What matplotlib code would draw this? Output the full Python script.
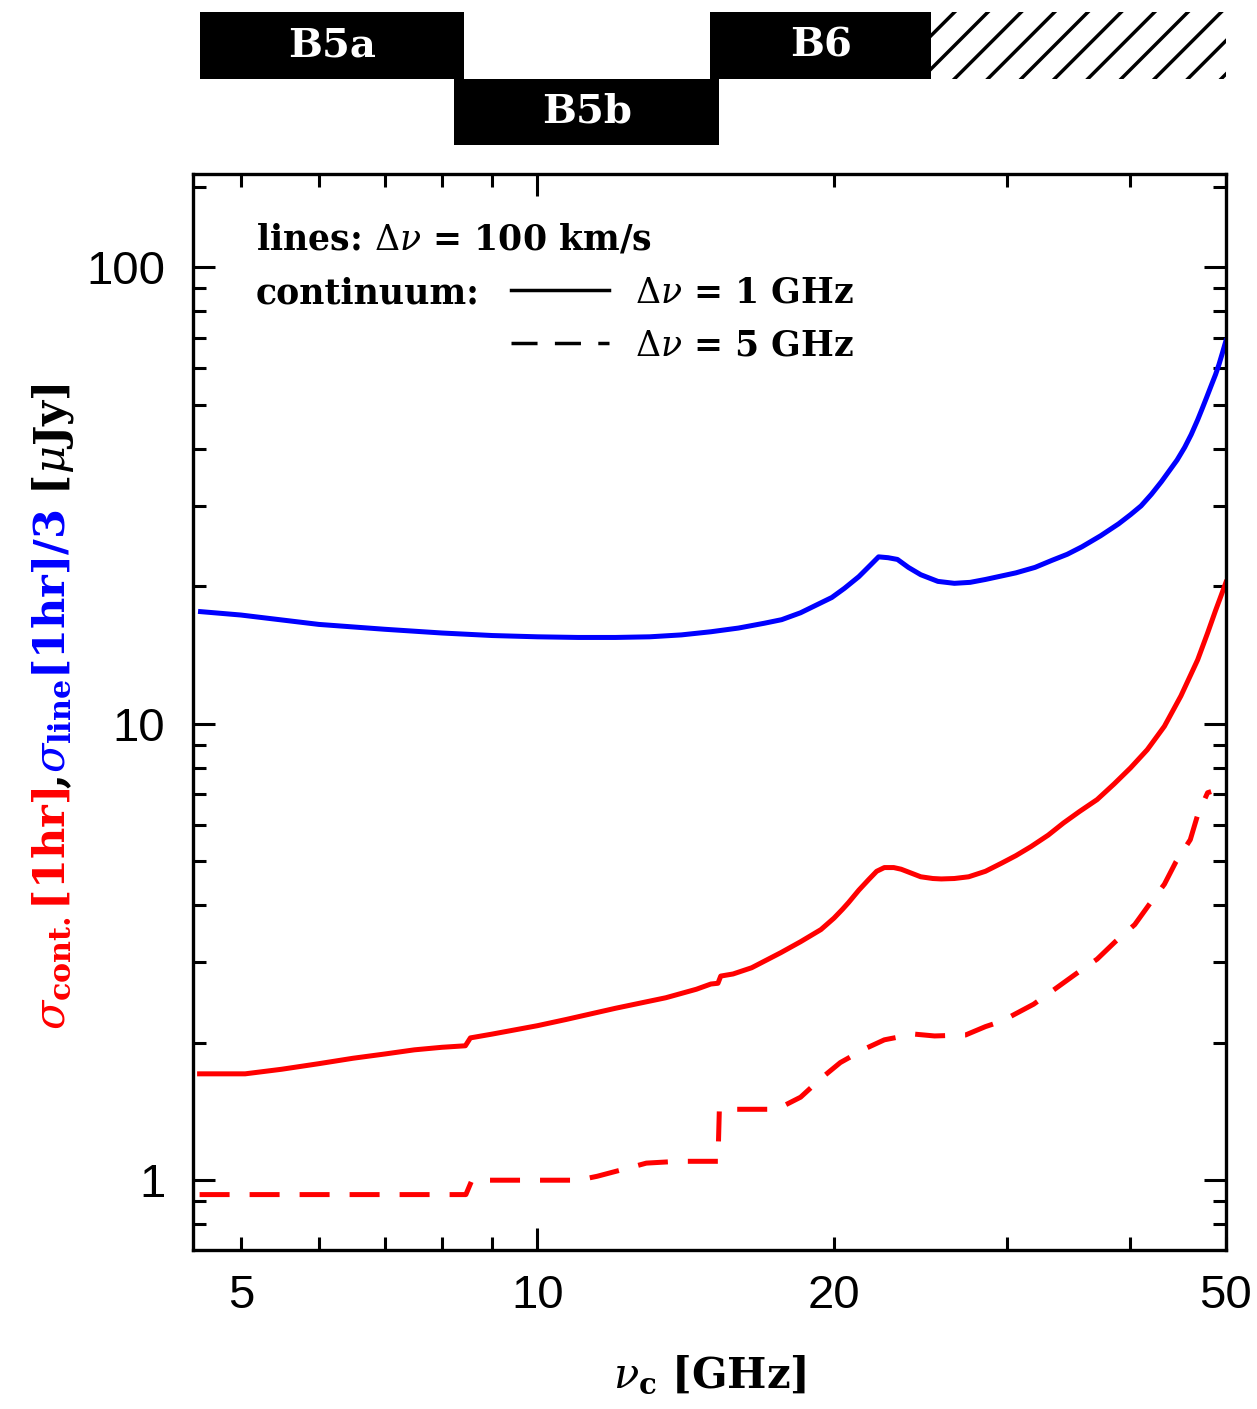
import numpy as np
import matplotlib
matplotlib.use("Agg")
import matplotlib.pyplot as plt
from matplotlib.ticker import FixedLocator, FuncFormatter, NullFormatter
from matplotlib.lines import Line2D

plt.rcParams["mathtext.fontset"] = "dejavuserif"
plt.rcParams["hatch.linewidth"] = 2.5

# receiver bands (GHz)
band_names = ["B5a", "B5b", "B6"]
band_lo = [4.54, 8.23, 14.98]
band_hi = [8.43, 15.3, 25.1]
band_row = [1.5, 0.5, 1.5]
hatch_lo = 25.1
hatch_hi = 50.0

# sigma_line[1hr]/3, dv = 100 km/s
nu_line = [4.55, 5.0, 6.0, 7.0, 8.0, 9.0, 10.0, 11.0, 12.0, 13.0, 14.0, 15.0, 16.0,
           17.0, 17.7, 18.5, 19.2, 19.9, 20.5, 21.2, 21.8, 22.2, 22.7, 23.2, 23.8,
           24.5, 25.5, 26.5, 27.5, 28.5, 30.6, 32.0, 33.3, 34.5, 35.7, 37.3, 38.9,
           40.0, 41.0, 42.0, 43.0, 44.6, 45.4, 46.1, 46.8, 47.3, 47.8, 48.3, 48.8,
           49.2, 49.6, 50.0]
sig_line = [17.6, 17.3, 16.5, 16.1, 15.8, 15.6, 15.5, 15.45, 15.45, 15.5, 15.65, 15.9, 16.2,
            16.6, 16.9, 17.5, 18.2, 18.9, 19.8, 21.0, 22.3, 23.2, 23.1, 22.9, 22.0,
            21.2, 20.5, 20.3, 20.4, 20.7, 21.4, 22.0, 22.8, 23.5, 24.4, 25.8, 27.4,
            28.7, 30.0, 31.8, 33.9, 37.8, 40.3, 43.0, 46.3, 49.0, 51.9, 55.0, 58.2,
            61.3, 65.0, 69.0]

# sigma_cont[1hr], dv = 1 GHz
nu_c1 = [4.54, 5.05, 5.5, 6.0, 6.5, 7.0, 7.5, 8.0, 8.45, 8.55, 9.0, 10.0, 10.7, 12.0,
         13.5, 14.5, 15.0, 15.25, 15.35, 15.8, 16.5, 17.66, 18.5, 19.4, 20.0, 20.4,
         20.7, 21.2, 21.7, 22.1, 22.5, 23.0, 23.4, 24.0, 24.5, 25.2, 25.7, 26.5, 27.4,
         28.5, 29.6, 30.6, 31.7, 33.0, 34.2, 35.5, 37.0, 38.5, 40.0, 41.6, 43.3,
         45.0, 46.8, 47.9, 48.8, 49.4, 50.0]
sig_c1 = [1.71, 1.71, 1.75, 1.80, 1.85, 1.89, 1.93, 1.955, 1.97, 2.05, 2.09, 2.18, 2.25, 2.38,
          2.51, 2.62, 2.69, 2.70, 2.80, 2.83, 2.92, 3.15, 3.33, 3.54, 3.75, 3.92,
          4.06, 4.32, 4.56, 4.75, 4.84, 4.84, 4.80, 4.70, 4.62, 4.58, 4.57, 4.58, 4.62,
          4.75, 4.95, 5.14, 5.38, 5.70, 6.06, 6.42, 6.82, 7.38, 8.0, 8.77, 9.87,
          11.5, 13.8, 15.8, 17.7, 19.0, 20.4]

# sigma_cont[1hr], dv = 5 GHz
nu_c5 = [4.54, 8.46, 8.58, 11.0, 11.5, 12.3, 12.9, 13.9, 15.25, 15.3, 17.5, 18.5, 19.4,
         20.3, 21.5, 22.5, 24.1, 25.3, 27.2, 28.5, 29.6, 31.9, 33.5, 35.2, 37.0,
         38.6, 40.4, 41.8, 43.3, 44.5, 46.0, 46.8, 47.9, 48.3]
sig_c5 = [0.93, 0.93, 1.0, 1.0, 1.02, 1.06, 1.09, 1.10, 1.10, 1.43, 1.43, 1.52, 1.67,
          1.81, 1.94, 2.03, 2.09, 2.07, 2.08, 2.17, 2.23, 2.43, 2.62, 2.83, 3.05,
          3.33, 3.63, 4.02, 4.45, 4.99, 5.57, 6.31, 7.06, 7.1]

xlim = (4.47, 50)
ylim = (0.703, 160)

fig = plt.figure(figsize=(12.57, 14.09), dpi=100)
ax = fig.add_axes([0.1535, 0.1128, 0.8218, 0.7637])

ax.plot(nu_line, sig_line, color="#0000ff", lw=3.6)
ax.plot(nu_c1, sig_c1, color="#ff0000", lw=3.6)
ax.plot(nu_c5, sig_c5, color="#ff0000", lw=3.6, dashes=(6, 4))

ax.set_xscale("log")
ax.set_yscale("log")
ax.set_xlim(*xlim)
ax.set_ylim(*ylim)

ax.xaxis.set_major_locator(FixedLocator([10]))
ax.xaxis.set_minor_locator(FixedLocator([5, 6, 7, 8, 9, 20, 30, 40, 50]))
ax.xaxis.set_major_formatter(FuncFormatter(lambda v, p: "%g" % v))
ax.xaxis.set_minor_formatter(FuncFormatter(lambda v, p: "%g" % v if v in (5, 20, 50) else ""))
ax.yaxis.set_major_locator(FixedLocator([1, 10, 100]))
ax.yaxis.set_minor_locator(FixedLocator([0.8, 0.9] + [k * d for d in (1, 10) for k in range(2, 10)] + [150]))
ax.yaxis.set_major_formatter(FuncFormatter(lambda v, p: "%g" % v))
ax.yaxis.set_minor_formatter(NullFormatter())
ax.tick_params(which="both", direction="in", top=True, right=True, width=2.2,
               labelsize=34, colors="black")
ax.tick_params(which="major", length=16)
ax.tick_params(which="minor", length=9.5)
ax.tick_params(axis="x", which="both", pad=17)
ax.tick_params(axis="y", which="both", pad=20)
for lab in ax.xaxis.get_majorticklabels() + ax.xaxis.get_minorticklabels() + ax.yaxis.get_majorticklabels():
    lab.set_fontfamily("Liberation Sans")
for s in ax.spines.values():
    s.set_linewidth(2.4)

serif = {"family": "DejaVu Serif", "weight": "bold"}
ax.set_xlabel(r"$\nu_{\mathbf{c}}$ [GHz]", fontsize=30, labelpad=26, **serif)

# annotation / legend
ax.text(0.061, 0.9387, r"lines: $\Delta\nu$ = 100 km/s", transform=ax.transAxes,
        fontsize=25, va="center", ha="left", **serif)
ax.text(0.061, 0.889, "continuum:", transform=ax.transAxes,
        fontsize=25, va="center", ha="left", **serif)
handles = [Line2D([], [], color="black", lw=2.5),
           Line2D([], [], color="black", lw=2.5, dashes=(7.5, 5))]
leg = ax.legend(handles, [r"$\Delta\nu$ = 1 GHz", r"$\Delta\nu$ = 5 GHz"],
                loc="upper left", bbox_to_anchor=(0.278, 0.935), frameon=False,
                handlelength=2.8, handletextpad=0.76, labelspacing=0.55,
                prop={"family": "DejaVu Serif", "weight": "bold", "size": 25})

# band bar on top
axb = fig.add_axes([0.1535, 0.897, 0.8218, 0.0944])
axb.set_xscale("log")
axb.set_xlim(*xlim)
axb.set_ylim(0, 2)
axb.axis("off")
widths = [h - l for l, h in zip(band_lo, band_hi)]
axb.barh(band_row, widths, left=band_lo, height=1.0, color="black", edgecolor="none")
axb.barh([1.5], [hatch_hi - hatch_lo], left=[hatch_lo], height=1.0, color="white",
         edgecolor="black", hatch="/", linewidth=0)
for name, l, h, r in zip(band_names, band_lo, band_hi, band_row):
    axb.text(np.sqrt(l * h), r, name, color="white", fontsize=29, ha="center",
             va="center", **serif)

# multicoloured y label
fig.canvas.draw()
rend = fig.canvas.get_renderer()
pieces = [(r"$\sigma_{\mathbf{cont.}}$[1hr]", "#ff0000"),
          (",", "black"),
          (r"$\sigma_{\mathbf{line}}$[1hr]/3", "#0000ff"),
          (r" [$\mu$Jy]", "black")]
H = fig.get_size_inches()[1] * fig.dpi
W = fig.get_size_inches()[0] * fig.dpi
xb = 64 / W
y0 = (1409 - 1030) / H
for s, c in pieces:
    t = fig.text(xb, y0, s, color=c, rotation=90, rotation_mode="anchor",
                 ha="left", va="baseline", fontsize=31, **serif)
    bb = t.get_window_extent(rend)
    y0 = bb.y1 / H

fig.savefig("out.png", dpi=100)
